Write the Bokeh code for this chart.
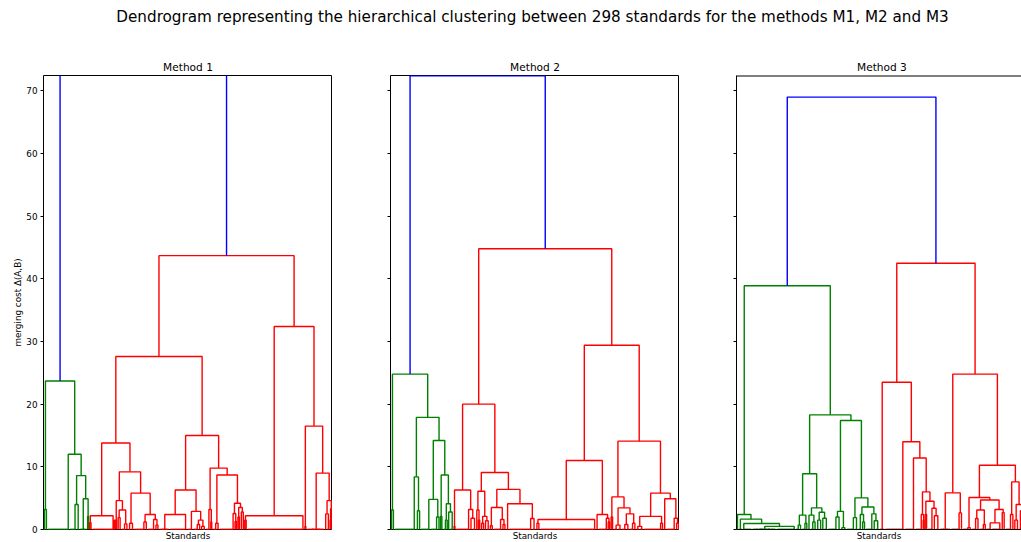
from bokeh.plotting import figure
from bokeh.layouts import column, row
from bokeh.models import Range1d, FixedTicker, ColumnDataSource
from bokeh.core.properties import value
from bokeh.embed import file_html
from bokeh.resources import INLINE

FONT = "DejaVu Sans"
SUPTITLE = ("Dendrogram representing the hierarchical clustering between 298 "
            "standards for the methods M1, M2 and M3")
PANEL_TITLES = ["Method 1", "Method 2", "Method 3"]
N_STANDARDS = 298
Y_TICKS = [0, 10, 20, 30, 40, 50, 60, 70]
Y_LABEL = "merging cost \u0394(A,B)"
X_LABEL = "Standards"
LINK_COLORS = {"above": "#0000ff", "first": "#008000", "second": "#ff0000"}

# Merge trees, written as [merge cost, left, right].
# An int n is a group of n identical standards (merged at cost 0);
# "rN" / "lN" is a run of N standards absorbed one after another at cost 0.
TREE_M1 = [80.0,
    [23.7,
        [3.2, 2, 2],
        [12.0, "r23",
            [8.6, [4.0, "r7", 3],
                  [4.9, 8, [2.1, 1, 1]]]]],
    [43.7,
        [27.6,
            [13.8,
                [2.2, [1.1, 1, 2], [0, "r22", [1.5, 1, 1]]],
                [9.2,
                    [4.6, [1.5, 1, 1], [3.1, [1.9, 2, 2], [0.9, "r5", 2]]],
                    [5.8, [1.0, 3, 3],
                          [2.4, [1.2, "r12", 2], [1.6, "r8", [0.7, 2, 2]]]]]],
            [15.0,
                [6.3,
                    [2.4, 11, "r18"],
                    [2.9, "r6", [1.5, [0.8, "r6", 2], [0.5, 2, 3]]]],
                [9.8,
                    [3.2, "r5", [1.2, 1, 1]],
                    [8.7,
                        [1.0, "r5", 2],
                        [4.2, [2.55, "r16", [1.3, 1, 2]],
                              [3.5, [2.0, 1, 2], [2.8, 2, 2]]]]]]],
        [32.4,
            [2.2, [1.5, 1, 2], "r59"],
            [16.5, [0.5, 1, 1],
                [9.0, 19, [4.6, [2.5, 2, 3], [3.3, [1.5, 1, 1], 1]]]]]]]

TREE_M2 = [72.4,
    [24.8,
        [3.1, 2, 2],
        [17.9,
            [8.4, "r22", [3.0, "r3", 2]],
            [14.2,
                [4.8, "r10", [2.0, "r8", 2]],
                [8.7, [2.1, 1, 2], [4.1, [1.5, "r4", 1], [2.8, 2, "r4"]]]]]],
    [44.8,
        [20.0,
            [6.3, [0.5, 1, 1], [3.2, "r15", [1.8, 2, "r4"]]],
            [9.1,
                [6.1, [3.1, 2, [1.5, 1, 2]], [2.1, [1.0, 2, 2], [1.4, 2, 3]]],
                [6.4,
                    [3.5, [0.6, 2, 2], [1.6, "r9", [0.8, 2, 2]]],
                    [4.1, "r3", [1.75, "r24", 4]]]]],
        [29.4,
            [11.0,
                [1.6, [1.0, 2, 2], "r58"],
                [2.4, "r2", [1.8, "r10", [1.2, 1, 2]]]],
            [14.1,
                [5.2, [2.0, 1, 2],
                      [3.45, [0.7, "r4", "r4"],
                             [2.5, [0.8, "r5", 3], [1.0, "r5", 2]]]],
                [5.8,
                    [2.1, [0.5, 4, 4], [1.0, "r19", 1]],
                    [4.9, "r3", [1.8, "r10", [1.0, 2, 2]]]]]]]]

TREE_M3 = [69.0,
    [38.9,
        [2.4, 2, [1.65, 4, [0.95, "l10", [0.5, 25, "r20"]]]],
        [18.3,
            [8.9,
                [2.3, [0.7, "r4", 2], [1.0, "r5", 1]],
                [3.45, [2.3, 3, [1.2, "r4", 2]],
                       [2.75, [1.5, 3, "r3"], [1.8, 2, "r4"]]]],
            [17.4,
                [2.9, [2.0, "r10", 3], [0.3, 3, 3]],
                [5.05, [1.9, "r9", 3],
                       [3.6, [2.4, "r4", [1.2, 2, 2]],
                             [2.5, "r8", [1.4, 2, "r4"]]]]]]],
    [42.5,
        [23.5, 6,
            [14.0, "r20",
                [11.4, "r11",
                    [6.0, [2.4, "r8", [1.5, 1, 1]],
                          [4.5, [2.4, 1, 2], [3.4, "r6", [2.2, 2, "r4"]]]]]]],
        [24.8,
            [5.85, 12, [2.65, "r10", 2]],
            [10.26,
                [5.1, [0.3, "r7", 2],
                      [4.7, [3.1, [1.75, "r6", 2], [0.8, "r6", 1]],
                            [3.2, [1.05, "r6", "r10"], [2.7, 2, 2]]]],
                [7.6, [2.4, "r7", 2],
                      [4.0, [1.5, 2, 3], [3.0, "r3", 4]]]]]]]

TREES = [TREE_M1, TREE_M2, TREE_M3]


def leaf_x(i):
    return 5.0 + 10.0 * i


def flat_group(n, start, links, color):
    if n == 1:
        return leaf_x(start)
    a = (n + 1) // 2
    cl = flat_group(a, start, links, color)
    cr = flat_group(n - a, start + a, links, color)
    links.append(([cl, cl, cr, cr], [0, 0, 0, 0], color))
    return (cl + cr) / 2


def run_group(kind, n, start, links, color):
    order = list(range(start, start + n))
    if kind == "l":
        order = order[::-1]
    c = leaf_x(order[0])
    for i in order[1:]:
        x = leaf_x(i)
        links.append(([c, c, x, x], [0, 0, 0, 0], color))
        c = (c + x) / 2
    return c


def walk(node, start, links, color):
    """Lay out a subtree; returns (x of its stem, merge cost, n standards)."""
    if isinstance(node, int):
        return flat_group(node, start, links, color), 0.0, node
    if isinstance(node, str):
        n = int(node[1:])
        return run_group(node[0], n, start, links, color), 0.0, n
    h, left, right = node
    cl, hl, nl = walk(left, start, links, color)
    cr, hr, nr = walk(right, start + nl, links, color)
    links.append(([cl, cl, cr, cr], [hl, h, h, hr], color))
    return (cl + cr) / 2, h, nl + nr


def tree_links(tree):
    links = []
    h, left, right = tree
    cl, hl, nl = walk(left, 0, links, LINK_COLORS["first"])
    cr, hr, nr = walk(right, nl, links, LINK_COLORS["second"])
    links.append(([cl, cl, cr, cr], [hl, h, h, hr], LINK_COLORS["above"]))
    assert nl + nr == N_STANDARDS
    return links


# shared y axis: scipy leaves 5 % headroom above the last panel's top merge
Y_MAX = 1.05 * TREE_M3[0]
y_range = Range1d(0, Y_MAX)

HEADER_H = 40
TOP = 35
FRAME_H = 454
BOTTOM = 13
X_FULL = 10.0 * N_STANDARDS

# (left border, frame width) for each panel; the last one runs to the page edge
PANEL_GEOM = [(43, 289), (58, 289), (57, 285)]

panels = []
for k, (tree, (left_border, frame_w)) in enumerate(zip(TREES, PANEL_GEOM)):
    x_end = X_FULL * frame_w / 289.0
    p = figure(frame_width=frame_w, frame_height=FRAME_H,
               x_range=Range1d(0, x_end), y_range=y_range,
               toolbar_location=None, output_backend="svg",
               min_border_left=left_border, min_border_right=0,
               min_border_top=TOP, min_border_bottom=BOTTOM,
               title=PANEL_TITLES[k])
    p.title.text_font = FONT
    p.title.text_font_size = "10.6px"
    p.title.text_font_style = "normal"
    p.title.text_color = "black"
    p.title.standoff = 5
    if k < 2:
        p.title.align = "center"
    else:
        # keep the title centred over the full panel width
        p.title.align = "left"
        p.title.offset = 289 / 2 - 24

    links = tree_links(tree)
    src = ColumnDataSource(dict(xs=[l[0] for l in links],
                                ys=[l[1] for l in links],
                                color=[l[2] for l in links]))
    p.multi_line(xs="xs", ys="ys", line_color="color", line_width=1.4, source=src)

    p.grid.visible = False
    p.background_fill_color = "white"
    p.border_fill_color = "white"

    xa = p.xaxis[0]
    xa.ticker = FixedTicker(ticks=[])
    xa.axis_label = X_LABEL
    xa.axis_label_text_font = FONT
    xa.axis_label_text_font_size = "8.8px"
    xa.axis_label_text_font_style = "normal"
    xa.axis_label_text_color = "black"
    xa.axis_label_standoff = 1
    xa.major_label_standoff = 0
    xa.major_tick_out = 0
    xa.major_tick_in = 0
    xa.minor_tick_out = 0

    ya = p.yaxis[0]
    ya.ticker = FixedTicker(ticks=Y_TICKS)
    ya.major_tick_out = 3
    ya.major_tick_in = 0
    ya.minor_tick_out = 0
    ya.minor_tick_in = 0
    ya.major_tick_line_color = "black"
    ya.major_label_standoff = 3
    ya.major_label_text_font = FONT
    ya.major_label_text_font_size = "8.8px"
    ya.major_label_text_color = "black"
    if k == 0:
        ya.axis_label = Y_LABEL
        ya.axis_label_text_font = FONT
        ya.axis_label_text_font_size = "8.8px"
        ya.axis_label_text_font_style = "normal"
        ya.axis_label_text_color = "black"
        ya.axis_label_standoff = 0
    else:
        ya.major_label_overrides = {t: "" for t in Y_TICKS}

    if k < 2:
        p.outline_line_color = "black"
        p.outline_line_width = 1
        xa.axis_line_color = None
        ya.axis_line_color = None
    else:
        p.outline_line_color = None
        xa.axis_line_color = "black"
        ya.axis_line_color = "black"
        # top edge of the frame (no right edge: the panel runs off the page)
        p.segment(x0=[0], y0=[Y_MAX], x1=[x_end], y1=[Y_MAX],
                  line_color="black", line_width=2)
    panels.append(p)

header = figure(frame_width=1021, frame_height=HEADER_H,
                x_range=Range1d(0, 1021), y_range=Range1d(0, HEADER_H),
                toolbar_location=None, output_backend="svg",
                min_border=0, x_axis_location=None, y_axis_location=None)
header.outline_line_color = None
header.grid.visible = False
header.text(x=[532], y=[HEADER_H - 16], text=[SUPTITLE],
            text_font=value(FONT), text_font_size="15.2px",
            text_align="center", text_baseline="middle", text_color="black")

layout = column(header, row(*panels, spacing=0), spacing=0)

with open("out.html", "w") as f:
    f.write(file_html(layout, INLINE))
